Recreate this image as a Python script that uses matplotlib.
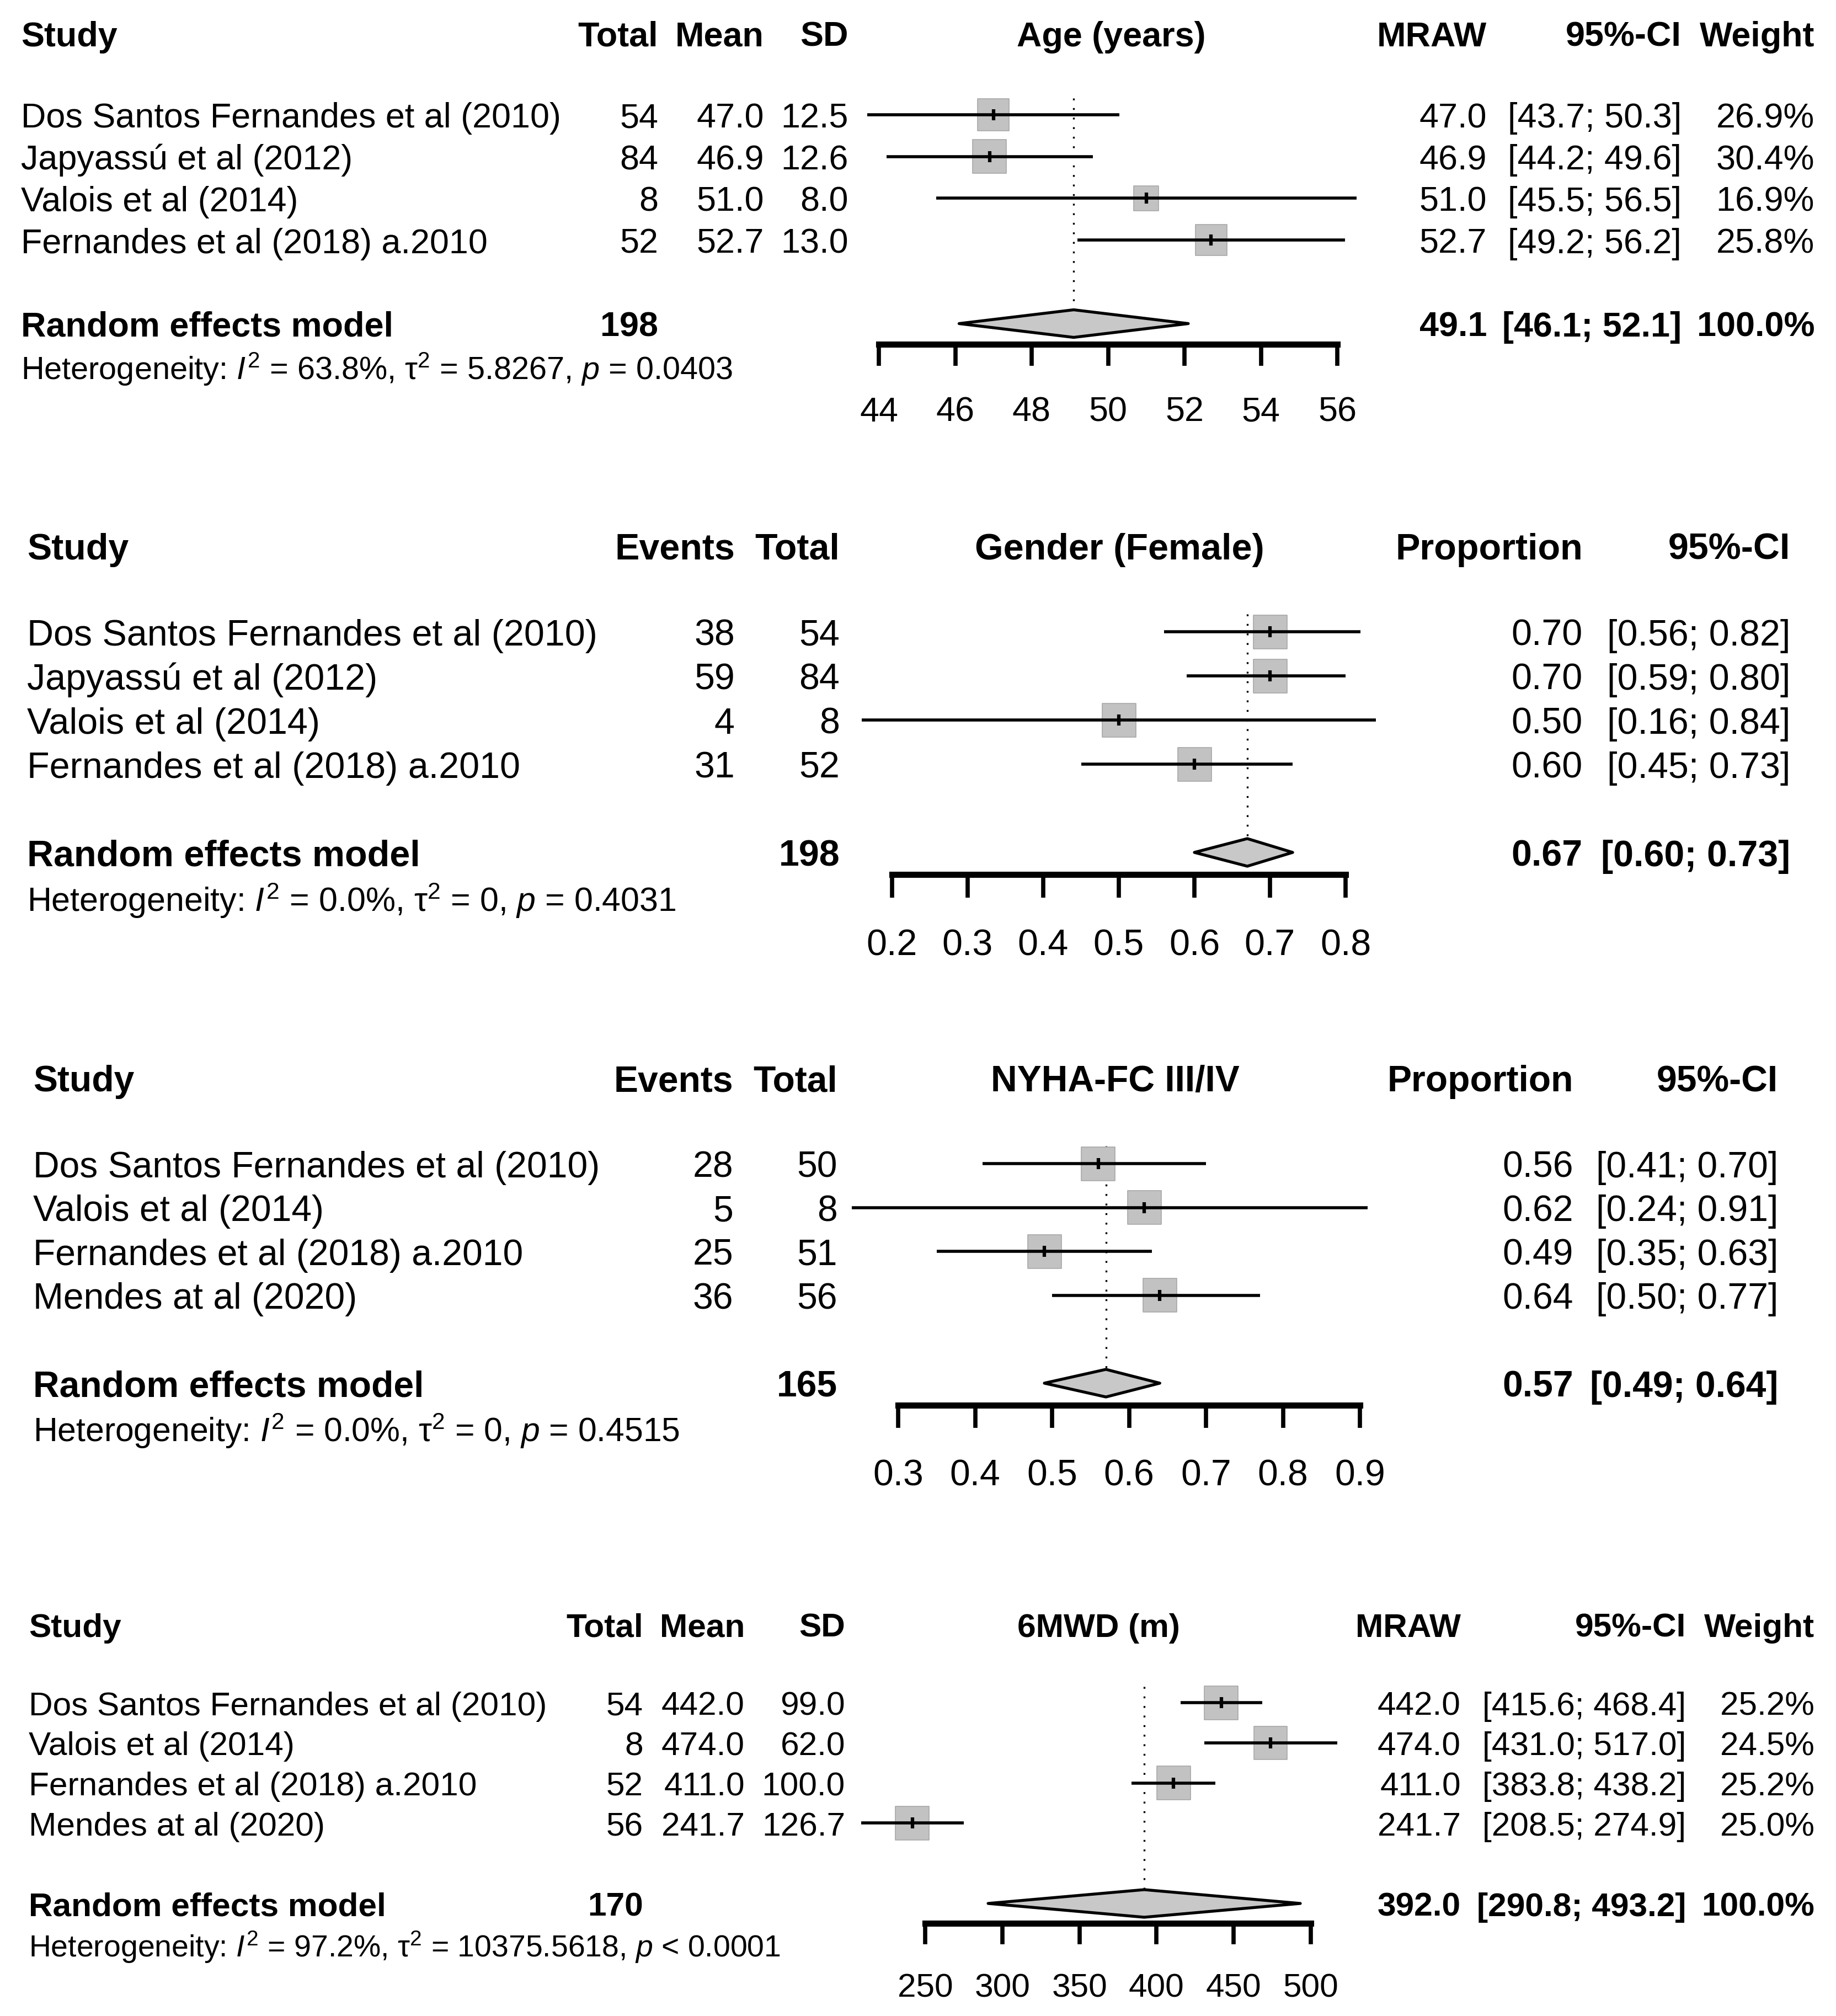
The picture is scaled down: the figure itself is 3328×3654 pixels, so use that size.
import matplotlib
matplotlib.use("Agg")
import matplotlib.pyplot as plt
from matplotlib import transforms
from matplotlib.patches import Polygon
import numpy as np

plt.rcParams['font.family'] = ['Liberation Sans', 'DejaVu Sans']
plt.rcParams['mathtext.fontset'] = 'custom'
plt.rcParams['mathtext.rm'] = 'Liberation Sans'
plt.rcParams['mathtext.it'] = 'Liberation Sans:italic'
plt.rcParams['mathtext.bf'] = 'Liberation Sans:bold'

W, H = 3328, 3655
PX = 100 / 72  # pixels per point

# ---------------- data ----------------
# Age (years)
age_studies = ["Dos Santos Fernandes et al (2010)", "Japyassú et al (2012)",
               "Valois et al (2014)", "Fernandes et al (2018) a.2010"]
age_total = [54, 84, 8, 52]
age_mean = [47.0, 46.9, 51.0, 52.7]
age_sd = [12.5, 12.6, 8.0, 13.0]
age_lo = [43.7, 44.2, 45.5, 49.2]
age_hi = [50.3, 49.6, 56.5, 56.2]
age_weight = [26.9, 30.4, 16.9, 25.8]
age_pooled = [49.1, 46.1, 52.1]
age_n = 198
age_het = ["63.8%", "5.8267", "= 0.0403"]
age_ticks = [44, 46, 48, 50, 52, 54, 56]

# Gender (Female)
sex_studies = ["Dos Santos Fernandes et al (2010)", "Japyassú et al (2012)",
               "Valois et al (2014)", "Fernandes et al (2018) a.2010"]
sex_events = [38, 59, 4, 31]
sex_total = [54, 84, 8, 52]
sex_prop = [0.70, 0.70, 0.50, 0.60]
sex_lo = [0.56, 0.59, 0.16, 0.45]
sex_hi = [0.82, 0.80, 0.84, 0.73]
sex_pooled = [0.67, 0.60, 0.73]
sex_n = 198
sex_het = ["0.0%", "0", "= 0.4031"]
sex_ticks = [0.2, 0.3, 0.4, 0.5, 0.6, 0.7, 0.8]

# NYHA-FC III/IV
nyha_studies = ["Dos Santos Fernandes et al (2010)", "Valois et al (2014)",
                "Fernandes et al (2018) a.2010", "Mendes at al (2020)"]
nyha_events = [28, 5, 25, 36]
nyha_total = [50, 8, 51, 56]
nyha_prop = [0.56, 0.62, 0.49, 0.64]
nyha_lo = [0.41, 0.24, 0.35, 0.50]
nyha_hi = [0.70, 0.91, 0.63, 0.77]
nyha_pooled = [0.57, 0.49, 0.64]
nyha_n = 165
nyha_het = ["0.0%", "0", "= 0.4515"]
nyha_ticks = [0.3, 0.4, 0.5, 0.6, 0.7, 0.8, 0.9]

# 6MWD (m)
walk_studies = ["Dos Santos Fernandes et al (2010)", "Valois et al (2014)",
                "Fernandes et al (2018) a.2010", "Mendes at al (2020)"]
walk_total = [54, 8, 52, 56]
walk_mean = [442.0, 474.0, 411.0, 241.7]
walk_sd = [99.0, 62.0, 100.0, 126.7]
walk_lo = [415.6, 431.0, 383.8, 208.5]
walk_hi = [468.4, 517.0, 438.2, 274.9]
walk_weight = [25.2, 24.5, 25.2, 25.0]
walk_pooled = [392.0, 290.8, 493.2]
walk_n = 170
walk_het = ["97.2%", "10375.5618", "< 0.0001"]
walk_ticks = [250, 300, 350, 400, 450, 500]

fig = plt.figure(figsize=(W / 100, H / 100), dpi=100)
fig.patch.set_facecolor('white')


def forest(y0, s, px_lo, px_hi, ticks, title, title_x, study_x, studies,
           left_cols, total_x, n_total, right_cols, right_sum,
           est, lo, hi, weights, pooled, het):
    fs = 0.5976 * s
    top, bot = y0 - 2.6 * s, y0 + 7.6 * s
    ax = fig.add_axes([px_lo / W, 1 - bot / H, (px_hi - px_lo) / W, (bot - top) / H])
    ax.set_xlim(ticks[0], ticks[-1])
    ax.set_ylim(7.6, -2.6)
    ax.patch.set_visible(False)
    for k in ['top', 'right', 'left']:
        ax.spines[k].set_visible(False)
    ax.spines['bottom'].set_position(('data', 5.5))
    ax.spines['bottom'].set_bounds(ticks[0], ticks[-1])
    ax.spines['bottom'].set_linewidth(8)
    ax.set_yticks([])
    ax.set_xticks(ticks)
    ax.set_xticklabels([f"{t:g}" for t in ticks])
    ax.tick_params(axis='x', direction='out', length=0.52 * s / PX, width=5.5,
                   pad=0.7 * s / PX, labelsize=fs)

    tr = transforms.blended_transform_factory(fig.transFigure, ax.transData)
    off = 0.297

    def put(px, row, txt, ha, bold=False, size=fs):
        ax.text(px / W, row + off * size / fs, txt, transform=tr, ha=ha, va='baseline',
                fontsize=size, fontweight='bold' if bold else 'normal')

    rows = np.arange(len(studies))
    hdr = -1.95
    # column headers and study rows
    put(study_x, hdr, "Study", 'left', True)
    for name, vals, x in left_cols:
        put(x, hdr, name, 'right', True)
        for r, v in zip(rows, vals):
            put(x, r, v, 'right')
    ax.text(title_x / W, hdr + off, title, transform=tr, ha='center', va='baseline',
            fontsize=fs, fontweight='bold')
    for name, vals, x in right_cols:
        put(x, hdr, name, 'right', True)
        for r, v in zip(rows, vals):
            put(x, r, v, 'right')
    for r, name in zip(rows, studies):
        put(study_x, r, name, 'left')

    # random effects summary
    put(study_x, 5, "Random effects model", 'left', True)
    put(total_x, 5, str(n_total), 'right', True)
    for (name, vals, x), v in zip(right_cols, right_sum):
        put(x, 5, v, 'right', True)
    het_txt = (f"Heterogeneity: $I^2$ = {het[0]}, $\\mathrm{{\\tau}}^2$ = {het[1]}, "
               f"$p$ {het[2]}")
    put(study_x, 6.05, het_txt, 'left', False, fs * 0.917)

    # marks
    dh = 25 / s
    ax.vlines(pooled[0], -0.4, 5 - dh, colors='black', lw=2.4,
              linestyles=(0, (1, 4.2)), zorder=1)
    w = np.ones(len(est)) if weights is None else np.asarray(weights)
    side = 61 * np.sqrt(w / w.max()) / PX
    ax.scatter(est, rows, s=side ** 2, marker='s', color='#c2c2c2',
               edgecolors='#a8a8a8', linewidths=1.2, zorder=2, clip_on=False)
    ax.hlines(rows, lo, hi, colors='black', lw=4, zorder=3, clip_on=False)
    ax.plot(est, rows, ls='none', marker='|', ms=15, mew=4.5, color='black',
            zorder=4, clip_on=False)
    m, a, b = pooled
    ax.add_patch(Polygon([(a, 5), (m, 5 - dh), (b, 5), (m, 5 + dh)], closed=True,
                         facecolor='#c8c8c8', edgecolor='black', lw=3.8,
                         joinstyle='round', zorder=3, clip_on=False))
    return ax


# Panel 1: Age
forest(209, 75.7, 1593, 2424, age_ticks, "Age (years)", 2014, 38, age_studies,
       [("Total", [str(v) for v in age_total], 1193),
        ("Mean", [f"{v:.1f}" for v in age_mean], 1385),
        ("SD", [f"{v:.1f}" for v in age_sd], 1538)],
       1193, age_n,
       [("MRAW", [f"{v:.1f}" for v in age_mean], 2695),
        ("95%-CI", [f"[{a:.1f}; {b:.1f}]" for a, b in zip(age_lo, age_hi)], 3048),
        ("Weight", [f"{v:.1f}%" for v in age_weight], 3289)],
       [f"{age_pooled[0]:.1f}", f"[{age_pooled[1]:.1f}; {age_pooled[2]:.1f}]", "100.0%"],
       age_mean, age_lo, age_hi, age_weight, age_pooled, age_het)

# Panel 2: Gender
forest(1146, 80.0, 1617, 2439, sex_ticks, "Gender (Female)", 2029, 49, sex_studies,
       [("Events", [str(v) for v in sex_events], 1332),
        ("Total", [str(v) for v in sex_total], 1522)],
       1522, sex_n,
       [("Proportion", [f"{v:.2f}" for v in sex_prop], 2869),
        ("95%-CI", [f"[{a:.2f}; {b:.2f}]" for a, b in zip(sex_lo, sex_hi)], 3245)],
       [f"{sex_pooled[0]:.2f}", f"[{sex_pooled[1]:.2f}; {sex_pooled[2]:.2f}]"],
       sex_prop, sex_lo, sex_hi, None, sex_pooled, sex_het)

# Panel 3: NYHA
forest(2110, 79.6, 1628, 2465, nyha_ticks, "NYHA-FC III/IV", 2021, 60, nyha_studies,
       [("Events", [str(v) for v in nyha_events], 1329),
        ("Total", [str(v) for v in nyha_total], 1518)],
       1518, nyha_n,
       [("Proportion", [f"{v:.2f}" for v in nyha_prop], 2852),
        ("95%-CI", [f"[{a:.2f}; {b:.2f}]" for a, b in zip(nyha_lo, nyha_hi)], 3223)],
       [f"{nyha_pooled[0]:.2f}", f"[{nyha_pooled[1]:.2f}; {nyha_pooled[2]:.2f}]"],
       nyha_prop, nyha_lo, nyha_hi, None, nyha_pooled, nyha_het)

# Panel 4: 6MWD
forest(3087, 72.8, 1677, 2376, walk_ticks, "6MWD (m)", 1991, 52, walk_studies,
       [("Total", [str(v) for v in walk_total], 1166),
        ("Mean", [f"{v:.1f}" for v in walk_mean], 1350),
        ("SD", [f"{v:.1f}" for v in walk_sd], 1532)],
       1166, walk_n,
       [("MRAW", [f"{v:.1f}" for v in walk_mean], 2648),
        ("95%-CI", [f"[{a:.1f}; {b:.1f}]" for a, b in zip(walk_lo, walk_hi)], 3056),
        ("Weight", [f"{v:.1f}%" for v in walk_weight], 3289)],
       [f"{walk_pooled[0]:.1f}", f"[{walk_pooled[1]:.1f}; {walk_pooled[2]:.1f}]", "100.0%"],
       walk_mean, walk_lo, walk_hi, walk_weight, walk_pooled, walk_het)

fig.savefig("out.png", dpi=100, facecolor='white')
